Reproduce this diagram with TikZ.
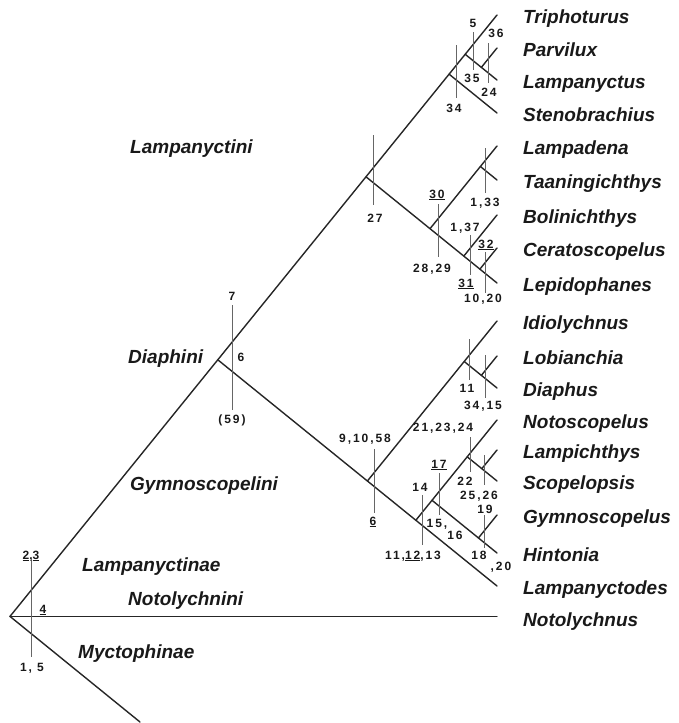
\documentclass[tikz,border=0pt]{standalone}
\usepackage{fontspec}
\setmainfont{Liberation Sans}
\newfontfamily\numfont[LetterSpace=16]{Liberation Sans}
\begin{document}
\begin{tikzpicture}[x=1pt,y=-1pt,
  tree/.style={line width=1.4pt, black!85, line cap=round},
  bar/.style={line width=0.7pt, black!60},
  taxon/.style={anchor=base west, inner sep=0pt, font=\fontsize{19}{19}\selectfont\bfseries\itshape, text=black!90},
  clade/.style={anchor=base west, inner sep=0pt, font=\fontsize{19}{19}\selectfont\bfseries\itshape, text=black!90},
  num/.style={anchor=base, inner sep=0pt, font=\numfont\fontsize{12}{12}\selectfont\bfseries, text=black!90}]
\useasboundingbox (0,0) rectangle (679,723);
% tips
\coordinate (tTri) at (497,15);
\coordinate (tPar) at (497,48);
\coordinate (tLam) at (497,80);
\coordinate (tSte) at (497,113);
\coordinate (tLpd) at (497,146);
\coordinate (tTaa) at (497,180);
\coordinate (tBol) at (497,215);
\coordinate (tCer) at (497,248);
\coordinate (tLep) at (497,283);
\coordinate (tIdi) at (497,321);
\coordinate (tLob) at (497,356);
\coordinate (tDia) at (497,388);
\coordinate (tNot) at (497,420);
\coordinate (tLpi) at (497,450);
\coordinate (tSco) at (497,481);
\coordinate (tGym) at (497,515);
\coordinate (tHin) at (497,553);
\coordinate (tLpc) at (497,586);
\coordinate (tNtl) at (497,616.4);
% internal nodes
\coordinate (R) at (10,616.4);
\coordinate (D) at (217.8,359.8);
\coordinate (L) at (366,176.8);
\coordinate (S) at (449.1,74.2);
\coordinate (P) at (465.2,54.3);
\coordinate (PL) at (481.4,67.3);
\coordinate (A1) at (430,228.7);
\coordinate (A2) at (480.4,166.5);
\coordinate (B1) at (463.8,256.1);
\coordinate (B2) at (479.9,269.1);
\coordinate (G) at (367.4,481);
\coordinate (I1) at (464.2,361.5);
\coordinate (I2) at (481.4,375.3);
\coordinate (N1) at (415.8,520.3);
\coordinate (N2) at (432,500.3);
\coordinate (N3) at (467.2,456.8);
\coordinate (N4) at (481.8,468.7);
\coordinate (N5) at (478.4,538);
\coordinate (Mend) at (140,722);
% branches
\draw[tree] (R) -- (tTri);
\draw[tree] (R) -- (tNtl);
\draw[tree] (R) -- (Mend);
\draw[tree] (D) -- (tLpc);
\draw[tree] (L) -- (tLep);
\draw[tree] (S) -- (tSte);
\draw[tree] (P) -- (tLam);
\draw[tree] (PL) -- (tPar);
\draw[tree] (A1) -- (tLpd);
\draw[tree] (A2) -- (tTaa);
\draw[tree] (B1) -- (tBol);
\draw[tree] (B2) -- (tCer);
\draw[tree] (G) -- (tIdi);
\draw[tree] (I1) -- (tDia);
\draw[tree] (I2) -- (tLob);
\draw[tree] (N1) -- (tNot);
\draw[tree] (N2) -- (tHin);
\draw[tree] (N3) -- (tSco);
\draw[tree] (N4) -- (tLpi);
\draw[tree] (N5) -- (tGym);
% taxon names
\node[taxon] (lTri) at (523,23.5) {Triphoturus};
\node[taxon] (lPar) at (523,56.5) {Parvilux};
\node[taxon] (lLam) at (523,88.5) {Lampanyctus};
\node[taxon] (lSte) at (523,121.5) {Stenobrachius};
\node[taxon] (lLpd) at (523,154.5) {Lampadena};
\node[taxon] (lTaa) at (523,188.5) {Taaningichthys};
\node[taxon] (lBol) at (523,223.5) {Bolinichthys};
\node[taxon] (lCer) at (523,256.5) {Ceratoscopelus};
\node[taxon] (lLep) at (523,291.5) {Lepidophanes};
\node[taxon] (lIdi) at (523,329.5) {Idiolychnus};
\node[taxon] (lLob) at (523,364.5) {Lobianchia};
\node[taxon] (lDia) at (523,396.5) {Diaphus};
\node[taxon] (lNot) at (523,428.5) {Notoscopelus};
\node[taxon] (lLpi) at (523,458.5) {Lampichthys};
\node[taxon] (lSco) at (523,489.5) {Scopelopsis};
\node[taxon] (lGym) at (523,523.5) {Gymnoscopelus};
\node[taxon] (lHin) at (523,561.5) {Hintonia};
\node[taxon] (lLpc) at (523,594.5) {Lampanyctodes};
\node[taxon] (lNtl) at (523,626.5) {Notolychnus};
% clade names
\node[clade] (cLpt) at (130,153.5) {Lampanyctini};
\node[clade] (cDia) at (128,363.5) {Diaphini};
\node[clade] (cGym) at (130,490.5) {Gymnoscopelini};
\node[clade] (cLpn) at (82,571.5) {Lampanyctinae};
\node[clade] (cNtl) at (128,605.5) {Notolychnini};
\node[clade] (cMyc) at (78,658.5) {Myctophinae};
% character bars
\draw[bar] (31,560) -- (31,657);
\node[num] (k23) at (31,559) {\underline{2},\underline{3}};
\node[num] (k4) at (43,613) {\underline{4}};
\node[num] (k15) at (32,671) {1, 5};
\draw[bar] (232,305) -- (232,410);
\node[num] (k7) at (232,300) {7};
\node[num] (k6a) at (241,361) {6};
\node[num] (k59) at (232,423) {(59)};
\draw[bar] (373,135) -- (373,205);
\node[num] (k27) at (375,222) {27};
\draw[bar] (438,204) -- (438,257);
\node[num] (k30) at (437,198) {\underline{30}};
\node[num] (k2829) at (432,272) {28,29};
\draw[bar] (485,148) -- (485,193);
\node[num] (k133) at (485,206) {1,33};
\draw[bar] (470,235) -- (470,275);
\node[num] (k137) at (465,231) {1,37};
\node[num] (k31) at (466,287) {\underline{31}};
\draw[bar] (485,252) -- (485,293);
\node[num] (k32) at (486,248) {\underline{32}};
\node[num] (k1020) at (483,302) {10,20};
\draw[bar] (456,45) -- (456,98);
\node[num] (k34) at (454,112) {34};
\draw[bar] (473,32) -- (473,70);
\node[num] (k5) at (473,27) {5};
\node[num] (k35) at (472,82) {35};
\draw[bar] (488,43) -- (488,83);
\node[num] (k36) at (496,37) {36};
\node[num] (k24a) at (489,96) {24};
\draw[bar] (469,339) -- (469,380);
\node[num] (k11) at (467,392) {11};
\draw[bar] (485,355) -- (485,398);
\node[num] (k3415) at (483,409) {34,15};
\draw[bar] (374,449) -- (374,513);
\node[num] (k91058) at (365,442) {9,10,58};
\node[num] (k6b) at (373,525) {\underline{6}};
\draw[bar] (422,495) -- (422,545);
\node[num] (k14) at (420,491) {14};
\node[num] (k111213) at (413,559) {11,\underline{12},13};
\draw[bar] (439,473) -- (439,515);
\node[num] (k17) at (439,468) {\underline{17}};
\node[num] (k15c) at (437,527) {15,};
\node[num] (k16) at (455,539) {16};
\draw[bar] (470,437) -- (470,472);
\node[num] (k212324) at (443,431) {21,23,24};
\node[num] (k22) at (465,485) {22};
\draw[bar] (484,455) -- (484,485);
\node[num] (k2526) at (479,499) {25,26};
\draw[bar] (484,515) -- (484,548);
\node[num] (k19) at (485,513) {19};
\node[num] (k18) at (479,559) {18};
\node[num] (k20) at (501,570) {,20};
\end{tikzpicture}
\end{document}
